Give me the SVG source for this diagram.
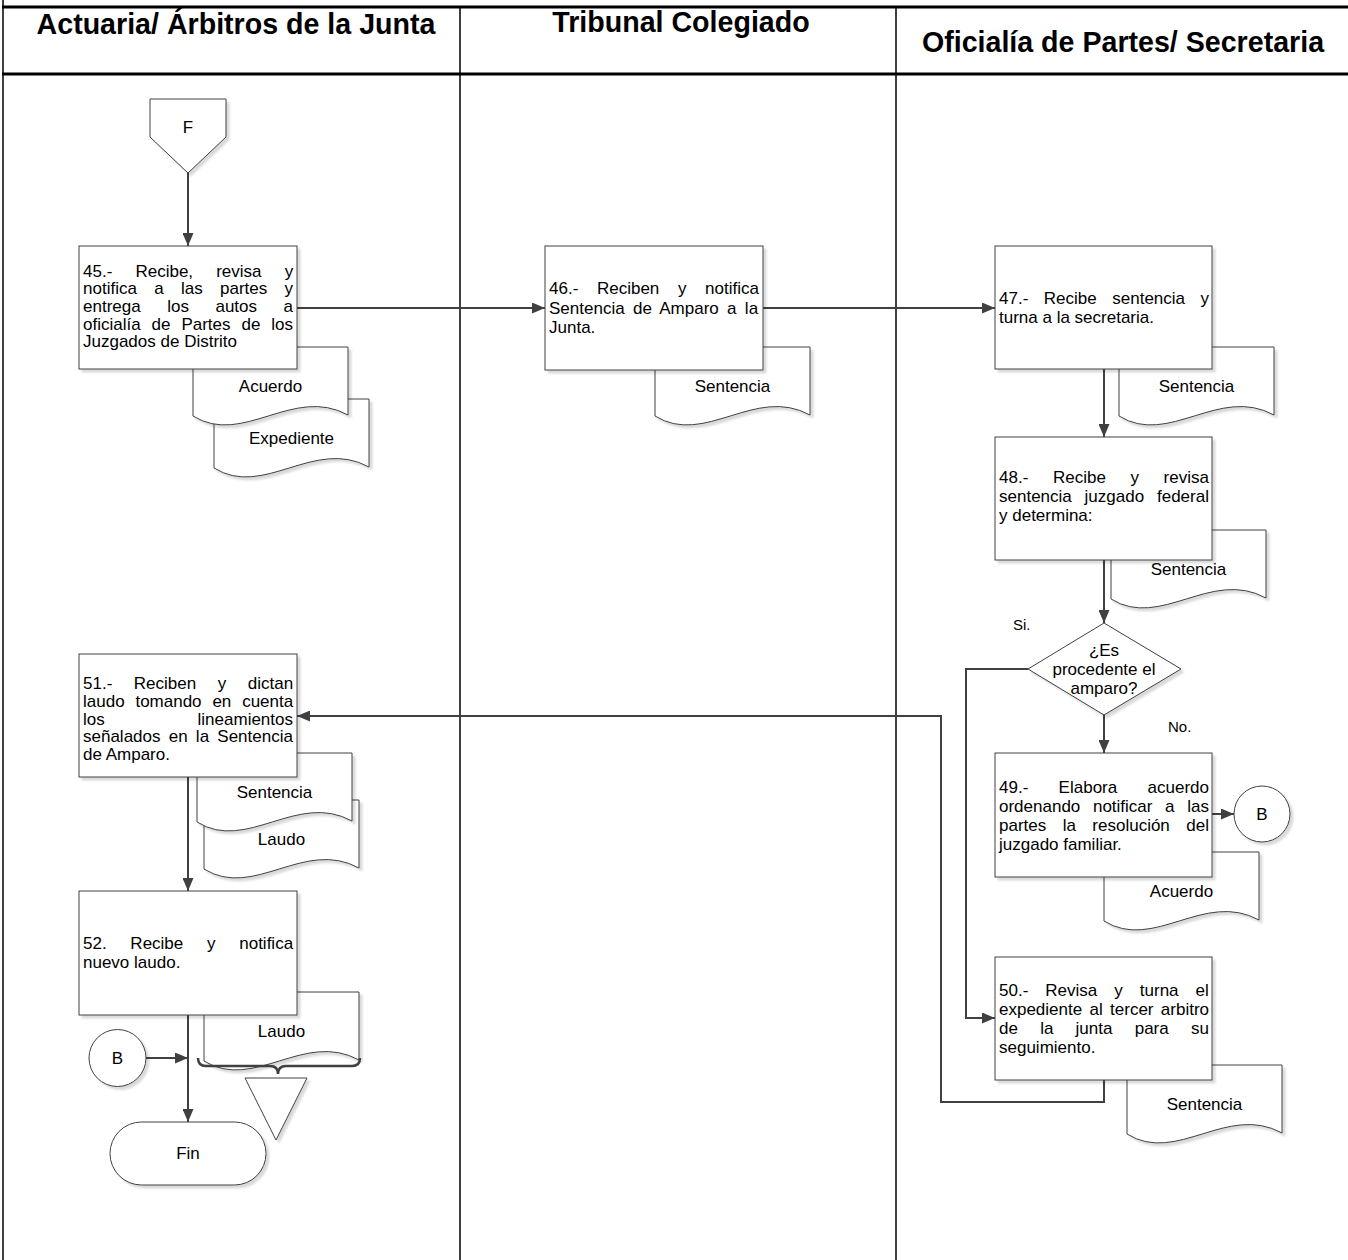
<svg xmlns="http://www.w3.org/2000/svg" width="1348" height="1260" viewBox="0 0 1348 1260">
<style>
.lane{stroke:#000;stroke-width:1.5;fill:none}
.hdr{stroke:#000;stroke-width:3;fill:none}
.ht{font-family:"Liberation Sans",Arial,sans-serif;font-weight:bold;font-size:28.6px;text-anchor:middle;fill:#000}
.box{fill:#fff;stroke:#404040;stroke-width:1;filter:url(#sh)}
.t{font-family:"Liberation Sans",Arial,sans-serif;font-size:17px;fill:#000}
.c{text-anchor:middle}
.con{fill:none;stroke:#404040;stroke-width:2}
.arr{marker-end:url(#ah)}
.lbl{font-size:15px}
</style>
<defs>
<filter id="sh" x="-10%" y="-10%" width="130%" height="130%">
<feOffset in="SourceAlpha" dx="3" dy="3"/>
<feGaussianBlur stdDeviation="1"/>
<feComponentTransfer><feFuncA type="linear" slope="0.15"/></feComponentTransfer>
<feMerge><feMergeNode/><feMergeNode in="SourceGraphic"/></feMerge>
</filter>
<marker id="ah" markerUnits="userSpaceOnUse" viewBox="0 0 13 11" refX="13" refY="5.5" markerWidth="13" markerHeight="11" orient="auto"><path d="M0,0 L13,5.5 L0,11 Z" fill="#404040"/></marker>
<path id="doc" d="M0,0 H155 V68 C100,38 50,100 0,69 Z"/>
</defs>

<g id="lanes">
<line class="lane" x1="3" y1="0" x2="3" y2="1260"/>
<line class="lane" x1="460" y1="7" x2="460" y2="1260"/>
<line class="lane" x1="896" y1="7" x2="896" y2="1260"/>
<line class="hdr" x1="2" y1="7" x2="1348" y2="7"/>
<line class="hdr" x1="2" y1="74" x2="1348" y2="74"/>
<text class="ht" x="236" y="34">Actuaria/ Árbitros de la Junta</text>
<text class="ht" x="681" y="32">Tribunal Colegiado</text>
<text class="ht" x="1123" y="52">Oficialía de Partes/ Secretaria</text>
</g>

<g id="doc-expediente"><use href="#doc" class="box" x="214" y="399"/><text class="t c" x="291.5" y="444">Expediente</text></g>
<g id="doc-acuerdo45"><use href="#doc" class="box" x="193" y="347"/><text class="t c" x="270.5" y="392">Acuerdo</text></g>
<g id="doc-sentencia46"><use href="#doc" class="box" x="655" y="347"/><text class="t c" x="732.5" y="392">Sentencia</text></g>
<g id="doc-sentencia47"><use href="#doc" class="box" x="1119" y="347"/><text class="t c" x="1196.5" y="392">Sentencia</text></g>
<g id="doc-sentencia48"><use href="#doc" class="box" x="1111" y="530"/><text class="t c" x="1188.5" y="575">Sentencia</text></g>
<g id="doc-acuerdo49"><use href="#doc" class="box" x="1104" y="852"/><text class="t c" x="1181.5" y="897">Acuerdo</text></g>
<g id="doc-sentencia50"><use href="#doc" class="box" x="1127" y="1065"/><text class="t c" x="1204.5" y="1110">Sentencia</text></g>
<g id="doc-laudo51"><use href="#doc" class="box" x="204" y="800"/><text class="t c" x="281.5" y="845">Laudo</text></g>
<g id="doc-sentencia51"><use href="#doc" class="box" x="197" y="753"/><text class="t c" x="274.5" y="798">Sentencia</text></g>
<g id="doc-laudo52"><use href="#doc" class="box" x="204" y="992"/><text class="t c" x="281.5" y="1037">Laudo</text></g>

<g id="connectors">
<path class="con arr" d="M188,173 V246"/>
<path class="con arr" d="M297,308 H545"/>
<path class="con arr" d="M763,308 H995"/>
<path class="con arr" d="M1104,369 V437"/>
<path class="con arr" d="M1104,560 V623"/>
<path class="con arr" d="M1104,715 V753"/>
<path class="con arr" d="M1212,814 H1234"/>
<path class="con arr" d="M1028,669 H966 V1018 H995"/>
<path class="con arr" d="M1104,1080 V1102 H941 V716 H297"/>
<path class="con arr" d="M188,777 V891"/>
<path class="con arr" d="M188,1015 V1122"/>
<path class="con arr" d="M146,1058 H188"/>
<path d="M198,1058 Q198,1066 206,1066 H270 Q278,1066 278,1074 Q278,1066 286,1066 H352 Q360,1066 360,1058" fill="none" stroke="#404040" stroke-width="2.5"/>
<text class="t lbl" x="1013" y="630">Si.</text>
<text class="t lbl" x="1168" y="732">No.</text>
</g>

<g id="F"><polygon class="box" points="150,99 226,99 226,137 188,173 150,137"/><text class="t c" x="188" y="133">F</text></g>

<g id="n45"><rect class="box" x="79" y="246" width="218" height="123"/>
<text class="t" x="83" y="276.6" style="word-spacing:18.4px">45.- Recibe, revisa y</text>
<text class="t" x="83" y="294.3" style="word-spacing:12.6px">notifica a las partes y</text>
<text class="t" x="83" y="312" style="word-spacing:21.8px">entrega los autos a</text>
<text class="t" x="83" y="329.7" style="word-spacing:6.2px">oficialía de Partes de los</text>
<text class="t" x="83" y="347.4">Juzgados de Distrito</text></g>

<g id="n46"><rect class="box" x="545" y="246" width="218" height="124"/>
<text class="t" x="549" y="294" style="word-spacing:13.9px">46.- Reciben y notifica</text>
<text class="t" x="549" y="313.5" style="word-spacing:3.6px">Sentencia de Amparo a la</text>
<text class="t" x="549" y="333">Junta.</text></g>

<g id="n47"><rect class="box" x="995" y="246" width="217" height="123"/>
<text class="t" x="999" y="304.3" style="word-spacing:10.8px">47.- Recibe sentencia y</text>
<text class="t" x="999" y="323.3">turna a la secretaria.</text></g>

<g id="n48"><rect class="box" x="995" y="437" width="217" height="123"/>
<text class="t" x="999" y="482.7" style="word-spacing:19.9px">48.- Recibe y revisa</text>
<text class="t" x="999" y="501.7" style="word-spacing:8.1px">sentencia juzgado federal</text>
<text class="t" x="999" y="521">y determina:</text></g>

<g id="decision"><polygon class="box" points="1104,623 1181,669 1104,715 1028,669"/>
<text class="t c" x="1104" y="656">¿Es</text>
<text class="t c" x="1104" y="675">procedente el</text>
<text class="t c" x="1104" y="694">amparo?</text></g>

<g id="n49"><rect class="box" x="995" y="753" width="217" height="124"/>
<text class="t" x="999" y="792.7" style="word-spacing:25.6px">49.- Elabora acuerdo</text>
<text class="t" x="999" y="811.7" style="word-spacing:7.9px">ordenando notificar a las</text>
<text class="t" x="999" y="831" style="word-spacing:11.7px">partes la resolución del</text>
<text class="t" x="999" y="850.3">juzgado familiar.</text></g>

<g id="B-right"><circle class="box" cx="1262" cy="814" r="28"/><text class="t c" x="1262" y="820">B</text></g>

<g id="n50"><rect class="box" x="995" y="957" width="217" height="123"/>
<text class="t" x="999" y="995.5" style="word-spacing:12.3px">50.- Revisa y turna el</text>
<text class="t" x="999" y="1014.5" style="word-spacing:2.6px">expediente al tercer arbitro</text>
<text class="t" x="999" y="1033.5" style="word-spacing:17.5px">de la junta para su</text>
<text class="t" x="999" y="1052.5">seguimiento.</text></g>

<g id="n51"><rect class="box" x="79" y="654" width="218" height="123"/>
<text class="t" x="83" y="689" style="word-spacing:16.8px">51.- Reciben y dictan</text>
<text class="t" x="83" y="706.8" style="word-spacing:6.1px">laudo tomando en cuenta</text>
<text class="t" x="83" y="724.6" style="word-spacing:88.1px">los lineamientos</text>
<text class="t" x="83" y="742.4" style="word-spacing:3.5px">señalados en la Sentencia</text>
<text class="t" x="83" y="760.2">de Amparo.</text></g>

<g id="n52"><rect class="box" x="79" y="891" width="218" height="124"/>
<text class="t" x="83" y="949" style="word-spacing:19px">52. Recibe y notifica</text>
<text class="t" x="83" y="968">nuevo laudo.</text></g>

<g id="B-left"><circle class="box" cx="117.5" cy="1058" r="28.5"/><text class="t c" x="117.5" y="1064">B</text></g>

<g id="archive"><polygon class="box" points="245,1078 307,1078 276,1140"/></g>

<g id="Fin"><rect class="box" x="110" y="1122" width="156" height="63" rx="31.5"/><text class="t c" x="188" y="1159">Fin</text></g>
</svg>
